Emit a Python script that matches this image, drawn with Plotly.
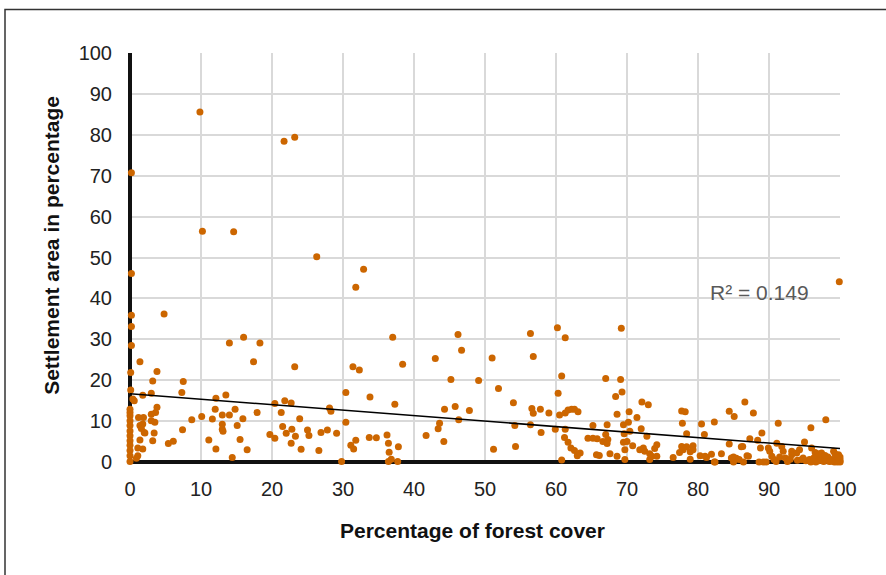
import plotly.graph_objects as go

# Percentage of forest cover (x) and settlement area in percentage (y)
forest_cover = [
    # outliers / upper points
    9.85, 21.7, 23.2, 0.2, 10.2, 14.6, 26.3, 31.8, 32.9, 0.2, 0.2, 0.2, 4.8, 0.2,
    16.0, 14.0, 18.3, 37.0, 46.2, 56.4, 60.2, 61.3, 69.2, 99.9,
    # 0-10
    0.1, 0.1, 0.4, 0.6, 0.0, 0.0, 0.0, 0.0, 0.0, 0.0, 0.0, 0.0, 0.0, 0.0, 0.0, 0.0,
    1.4, 3.8, 3.2, 7.5, 3.0, 1.8, 7.3, 3.8, 3.6, 3.0, 3.0, 3.5, 1.9, 1.2, 1.4, 1.8,
    1.6, 2.0, 3.4, 2.1, 1.4, 3.2, 7.4, 6.1, 5.4, 1.8, 1.1, 1.1, 0.9, 8.7,
    # 10-20
    10.1, 11.6, 12.1, 13.5, 12.0, 13.0, 14.0, 14.8, 15.9, 15.1, 13.0, 13.0, 13.1,
    11.1, 12.1, 15.5, 14.4, 16.5, 17.4, 17.9, 19.7,
    # 20-30
    23.2, 20.4, 21.8, 22.7, 21.3, 23.9, 28.1, 28.3, 21.5, 22.8, 22.0, 23.3, 20.4,
    25.0, 25.2, 26.9, 27.8, 29.1, 22.7, 24.1, 26.6, 29.8,
    # 30-40
    31.4, 32.3, 30.4, 33.8, 30.4, 31.8, 31.1, 31.5, 33.7, 34.7, 36.2, 36.4, 36.5,
    36.8, 36.4, 37.7, 37.8, 38.4, 37.3,
    # 40-60
    43.0, 46.7, 51.0, 56.8, 45.2, 49.1, 51.9, 44.3, 45.8, 47.8, 46.3, 43.6, 43.4,
    41.7, 44.2, 51.2, 54.3, 54.0, 56.6, 56.8, 57.8, 59.0, 54.2, 56.4, 57.9, 59.9,
    # 60-70
    60.8, 60.3, 60.5, 61.3, 61.7, 62.2, 62.6, 63.1, 61.3, 65.2, 61.2, 61.7, 62.1,
    62.6, 63.0, 63.4, 60.8, 64.5, 65.2, 65.8, 66.6, 65.7, 67.0, 69.1, 69.3, 68.4,
    68.6, 67.2, 67.0, 67.3, 67.2, 67.6, 68.6, 69.5, 69.6, 69.5, 69.7, 69.7, 66.1,
    # 70-80
    70.3, 71.4, 70.2, 72.0, 70.4, 72.8, 70.0, 70.8, 72.1, 73.0, 74.2, 73.9, 71.8,
    72.3, 72.5, 73.2, 73.5, 73.2, 74.2, 77.7, 78.2, 77.8, 78.4, 77.7, 77.4, 77.9,
    78.4, 78.9, 79.3, 79.3, 78.9, 76.5,
    # 80-90
    80.5, 80.9, 82.3, 80.3, 81.2, 81.9, 82.3, 83.3, 81.0, 84.4, 85.1, 86.6, 87.8,
    84.4, 86.3, 86.1, 87.3, 88.4, 89.0, 88.8, 85.0, 85.4, 85.8, 86.9, 87.1, 86.4,
    85.0, 82.4, 88.6, 89.2, 89.6, 84.7,
    # 90-100
    89.9, 90.1, 90.4, 90.7, 91.0, 91.1, 91.3, 91.8, 92.0, 91.5, 92.3, 92.6, 93.0,
    93.2, 93.2, 93.9, 94.3, 95.0, 94.6, 94.8, 95.2, 95.7, 95.9, 95.9, 96.0, 96.5,
    96.7, 96.9, 97.4, 97.6, 97.2, 97.7, 98.1, 98.5, 98.0, 99.1, 99.3, 99.7, 99.9,
    100.0, 100.0, 99.5, 98.9, 99.2, 100.0, 99.8, 96.3, 97.0, 98.3, 99.4, 100.0,
    99.6, 98.7, 97.9, 96.6, 94.0,
]

settlement_area = [
    # outliers / upper points
    85.6, 78.4, 79.4, 70.7, 56.4, 56.3, 50.2, 42.7, 47.1, 46.1, 35.9, 33.1, 36.2, 28.5,
    30.5, 29.1, 29.1, 30.5, 31.2, 31.4, 32.8, 30.4, 32.7, 44.1,
    # 0-10
    21.9, 17.6, 15.4, 15.0, 12.9, 12.1, 11.3, 10.1, 8.9, 7.6, 6.4, 5.2, 4.1, 2.8, 1.5, 0.1,
    24.5, 22.1, 19.8, 19.7, 16.8, 16.3, 17.0, 13.4, 12.1, 11.7, 10.1, 9.7, 10.9, 10.9, 8.9, 9.3,
    8.2, 7.2, 7.1, 7.1, 5.4, 5.2, 7.9, 5.1, 4.5, 3.2, 3.4, 1.5, 0.9, 10.3,
    # 10-20
    11.1, 10.5, 15.6, 16.4, 12.9, 11.5, 11.5, 12.9, 10.6, 8.9, 9.2, 8.0, 7.5,
    5.4, 3.2, 5.5, 1.1, 3.0, 24.5, 12.1, 6.7,
    # 20-30
    23.3, 14.3, 15.0, 14.4, 12.1, 10.6, 13.2, 12.4, 8.7, 8.0, 7.0, 6.3, 5.8,
    7.8, 6.5, 7.2, 7.8, 7.0, 4.6, 3.1, 2.8, 0.1,
    # 30-40
    23.3, 22.5, 17.0, 15.9, 9.7, 5.3, 4.1, 3.2, 6.0, 5.9, 6.6, 4.6, 2.4,
    0.7, 0.1, 0.1, 3.7, 23.9, 14.1,
    # 40-60
    25.3, 27.3, 25.4, 25.8, 20.2, 19.9, 18.0, 12.9, 13.6, 12.6, 10.3, 9.5, 8.1,
    6.5, 5.0, 3.1, 3.8, 14.5, 13.1, 11.9, 12.9, 12.0, 8.9, 9.1, 7.2, 8.0,
    # 60-70
    21.0, 16.8, 11.5, 12.0, 12.7, 12.9, 12.9, 12.3, 8.0, 8.9, 6.0, 4.8, 3.4,
    2.8, 1.5, 2.2, 0.5, 5.8, 5.8, 5.7, 5.0, 1.8, 20.4, 20.2, 17.1, 16.0,
    11.7, 9.1, 6.7, 5.5, 4.5, 2.0, 1.4, 9.1, 6.9, 4.8, 3.0, 0.6, 1.6,
    # 70-80
    12.3, 10.9, 9.7, 8.1, 7.5, 6.3, 5.0, 4.0, 14.7, 14.0, 4.2, 3.3, 3.0,
    3.4, 2.6, 2.0, 1.4, 0.6, 1.4, 12.5, 12.3, 9.5, 6.9, 3.8, 2.3, 3.0,
    3.7, 2.5, 4.0, 3.0, 0.7, 1.1,
    # 80-90
    9.3, 6.7, 9.8, 1.5, 1.1, 1.9, 0.0, 2.0, 1.4, 12.4, 11.1, 14.7, 12.0,
    4.4, 3.8, 3.7, 5.7, 5.3, 7.1, 3.4, 1.2, 0.9, 0.6, 1.5, 1.4, 0.0,
    0.0, 0.0, 0.0, 0.0, 0.0, 1.0,
    # 90-100
    3.4, 2.6, 1.4, 0.6, 0.1, 4.6, 9.5, 3.8, 2.6, 1.2, 1.0, 0.1, 0.7,
    2.6, 1.8, 2.2, 3.0, 4.9, 0.6, 1.0, 0.3, 0.6, 0.0, 8.4, 3.4, 2.3,
    1.4, 2.0, 2.2, 1.4, 0.6, 0.1, 0.6, 0.1, 10.3, 2.6, 2.0, 1.4, 1.0,
    0.1, 0.6, 0.6, 0.6, 0.0, 0.0, 1.8, 1.0, 0.3, 1.2, 0.3, 1.2,
    0.0, 0.2, 1.6, 0.0, 0.4,
]

# Linear trendline reported in the chart (intercept, slope) and fit quality
trend_intercept = 16.7
trend_slope = -0.134
trend_x = [0, 100]
r_squared = 0.149

x_ticks = [0, 10, 20, 30, 40, 50, 60, 70, 80, 90, 100]
y_ticks = [0, 10, 20, 30, 40, 50, 60, 70, 80, 90, 100]

x_title = "Percentage of forest cover"
y_title = "Settlement area in percentage"

FONT = "Liberation Sans, Arial, sans-serif"

# plot-area geometry in page pixels
L, R, T, B = 130, 840, 53, 462.3
W_PX, H_PX = R - L, B - T


def px_x(p):
    return (p - L) / W_PX


def px_y(p):
    return (B - p) / H_PX


fig = go.Figure()

fig.add_trace(go.Scatter(
    x=forest_cover, y=settlement_area, mode="markers",
    marker=dict(color="#CC6600", size=7, line=dict(width=0)),
    cliponaxis=False, showlegend=False, hoverinfo="x+y",
))

fig.add_trace(go.Scatter(
    x=trend_x, y=[trend_intercept + trend_slope * v for v in trend_x],
    mode="lines", line=dict(color="#000000", width=1.5),
    cliponaxis=False, showlegend=False, hoverinfo="skip",
))

axis_common = dict(
    showgrid=True, gridcolor="#d9d9d9", gridwidth=2,
    zeroline=True, zerolinecolor="#111111", zerolinewidth=3.5,
    showline=False, ticks="",
    tickfont=dict(family=FONT, size=20, color="#222222"),
    fixedrange=True,
)

fig.update_xaxes(range=[0, 100], tickvals=x_ticks, ticklabelstandoff=13, **axis_common)
fig.update_yaxes(range=[0, 100], tickvals=y_ticks, ticklabelstandoff=17, **axis_common)

fig.add_annotation(
    x=88.6, y=41.4, xref="x", yref="y", text=f"R² = {r_squared}",
    xanchor="center", yanchor="middle",
    showarrow=False, font=dict(family=FONT, size=21, color="#595959"),
)

# axis titles
fig.add_annotation(
    x=px_x(472), y=px_y(531), xref="paper", yref="paper",
    xanchor="center", yanchor="middle",
    text=f"<b>{x_title}</b>", showarrow=False,
    font=dict(family=FONT, size=21, color="#111111"),
)
fig.add_annotation(
    x=px_x(52), y=px_y(246), xref="paper", yref="paper",
    xanchor="center", yanchor="middle",
    text=f"<b>{y_title}</b>", showarrow=False, textangle=-90,
    font=dict(family=FONT, size=21, color="#111111"),
)

# outer chart border (left and top visible)
fig.add_shape(
    type="rect", xref="paper", yref="paper",
    x0=px_x(5), x1=px_x(920),
    y0=px_y(620), y1=px_y(9.5),
    line=dict(color="#333333", width=1.5), fillcolor="rgba(0,0,0,0)", layer="below",
)

fig.update_layout(
    width=886, height=575,
    margin=dict(l=L, r=886 - R, t=T, b=575 - B),
    paper_bgcolor="#ffffff", plot_bgcolor="#ffffff",
    font=dict(family=FONT),
    showlegend=False,
)

fig.write_html(
    "out.html",
    config={"displayModeBar": False},
    post_script="document.body.style.margin='0';document.body.style.overflow='hidden';",
)
